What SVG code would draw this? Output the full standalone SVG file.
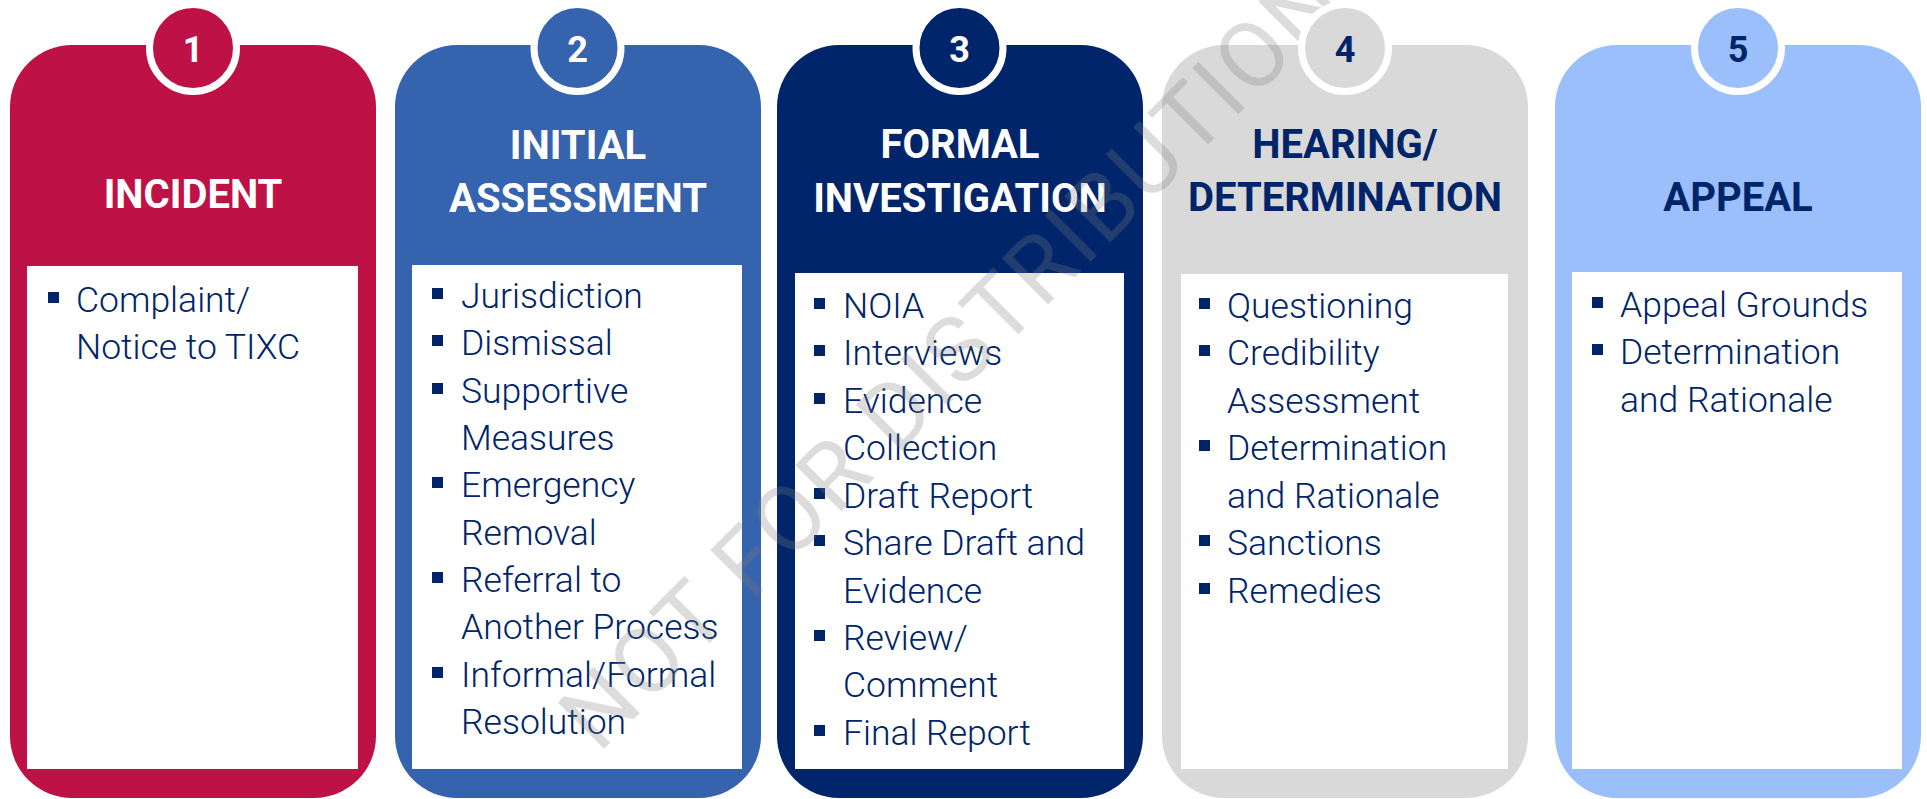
<svg xmlns="http://www.w3.org/2000/svg" width="1927" height="799" viewBox="0 0 1927 799">
  <style>
    .card { stroke: none; }
    .panel { fill: #ffffff; }
    .head { font-family: Roboto, "Liberation Sans", sans-serif; font-weight: 700; font-size: 40px; text-anchor: middle; }
    .num { font-family: Roboto, "Liberation Sans", sans-serif; font-weight: 700; font-size: 36px; text-anchor: middle; }
    .item { font-family: Roboto, "Liberation Sans", sans-serif; font-weight: 300; font-size: 35.5px; fill: #002469; }
    .dot { fill: #002469; }
    .light { fill: #ffffff; }
    .dark { fill: #002469; }
    .badge { stroke: #ffffff; stroke-width: 7; }
    .mark { font-family: Roboto, "Liberation Sans", sans-serif; font-weight: 400; font-size: 92px; letter-spacing: 3px; fill: #7f7f7f; fill-opacity: 0.27; text-anchor: middle; }
  </style>
  <defs>
    <rect id="bullet" width="11" height="11"/>
  </defs>

  <rect width="1927" height="799" fill="#ffffff"/>

  <!-- Step 1 -->
  <g id="step-incident">
    <rect class="card" x="10" y="45" width="366" height="753" rx="62" fill="#be1145"/>
    <rect class="panel" x="27" y="266" width="331" height="503"/>
    <text class="head light" x="193" y="208">INCIDENT</text>
    <use href="#bullet" class="dot" x="48" y="292"/>
    <text class="item" x="76" y="312">Complaint/</text>
    <text class="item" x="76" y="359">Notice to TIXC</text>
  </g>

  <!-- Step 2 -->
  <g id="step-initial-assessment">
    <rect class="card" x="395" y="45" width="366" height="753" rx="62" fill="#3563ae"/>
    <rect class="panel" x="412" y="265" width="330" height="504"/>
    <text class="head light" x="578" y="159">INITIAL</text>
    <text class="head light" x="578" y="212">ASSESSMENT</text>
    <g>
      <use href="#bullet" class="dot" x="432" y="288"/>
      <text class="item" x="461" y="308">Jurisdiction</text>
      <use href="#bullet" class="dot" x="432" y="335"/>
      <text class="item" x="461" y="355">Dismissal</text>
      <use href="#bullet" class="dot" x="432" y="383"/>
      <text class="item" x="461" y="403">Supportive</text>
      <text class="item" x="461" y="450">Measures</text>
      <use href="#bullet" class="dot" x="432" y="477"/>
      <text class="item" x="461" y="497">Emergency</text>
      <text class="item" x="461" y="545">Removal</text>
      <use href="#bullet" class="dot" x="432" y="572"/>
      <text class="item" x="461" y="592">Referral to</text>
      <text class="item" x="461" y="639">Another Process</text>
      <use href="#bullet" class="dot" x="432" y="667"/>
      <text class="item" x="461" y="687">Informal/Formal</text>
      <text class="item" x="461" y="734">Resolution</text>
    </g>
  </g>

  <!-- Step 3 -->
  <g id="step-formal-investigation">
    <rect class="card" x="777" y="45" width="366" height="753" rx="62" fill="#00256a"/>
    <rect class="panel" x="795" y="273" width="329" height="496"/>
    <text class="head light" x="960" y="158">FORMAL</text>
    <text class="head light" x="960" y="212">INVESTIGATION</text>
    <g>
      <use href="#bullet" class="dot" x="814" y="298"/>
      <text class="item" x="843" y="318">NOIA</text>
      <use href="#bullet" class="dot" x="814" y="345"/>
      <text class="item" x="843" y="365">Interviews</text>
      <use href="#bullet" class="dot" x="814" y="393"/>
      <text class="item" x="843" y="413">Evidence</text>
      <text class="item" x="843" y="460">Collection</text>
      <use href="#bullet" class="dot" x="814" y="488"/>
      <text class="item" x="843" y="508">Draft Report</text>
      <use href="#bullet" class="dot" x="814" y="535"/>
      <text class="item" x="843" y="555">Share Draft and</text>
      <text class="item" x="843" y="603">Evidence</text>
      <use href="#bullet" class="dot" x="814" y="630"/>
      <text class="item" x="843" y="650">Review/</text>
      <text class="item" x="843" y="697">Comment</text>
      <use href="#bullet" class="dot" x="814" y="725"/>
      <text class="item" x="843" y="745">Final Report</text>
    </g>
  </g>

  <!-- Step 4 -->
  <g id="step-hearing-determination">
    <rect class="card" x="1162" y="45" width="366" height="753" rx="62" fill="#d9d9d9"/>
    <rect class="panel" x="1181" y="274" width="327" height="495"/>
    <text class="head dark" x="1345" y="158">HEARING/</text>
    <text class="head dark" x="1345" y="211">DETERMINATION</text>
    <g>
      <use href="#bullet" class="dot" x="1199" y="298"/>
      <text class="item" x="1227" y="318">Questioning</text>
      <use href="#bullet" class="dot" x="1199" y="345"/>
      <text class="item" x="1227" y="365">Credibility</text>
      <text class="item" x="1227" y="413">Assessment</text>
      <use href="#bullet" class="dot" x="1199" y="440"/>
      <text class="item" x="1227" y="460">Determination</text>
      <text class="item" x="1227" y="508">and Rationale</text>
      <use href="#bullet" class="dot" x="1199" y="535"/>
      <text class="item" x="1227" y="555">Sanctions</text>
      <use href="#bullet" class="dot" x="1199" y="583"/>
      <text class="item" x="1227" y="603">Remedies</text>
    </g>
  </g>

  <!-- Step 5 -->
  <g id="step-appeal">
    <rect class="card" x="1555" y="45" width="366" height="753" rx="62" fill="#9bbffb"/>
    <rect class="panel" x="1572" y="272" width="330" height="497"/>
    <text class="head dark" x="1738" y="211">APPEAL</text>
    <use href="#bullet" class="dot" x="1592" y="297"/>
    <text class="item" x="1620" y="317">Appeal Grounds</text>
    <use href="#bullet" class="dot" x="1592" y="344"/>
    <text class="item" x="1620" y="364">Determination</text>
    <text class="item" x="1620" y="412">and Rationale</text>
  </g>

  <!-- diagonal watermark across the steps -->
  <g id="watermark">
    <text class="mark" transform="translate(950,356) rotate(-45)" y="33">NOT FOR DISTRIBUTION</text>
  </g>

  <!-- numbered badges sit on top of everything -->
  <g id="badges">
    <g id="badge-1">
      <circle class="badge" cx="193" cy="48" r="43.5" fill="#be1145"/>
      <text class="num light" x="193" y="62">1</text>
    </g>
    <g id="badge-2">
      <circle class="badge" cx="577.5" cy="48" r="43.5" fill="#3563ae"/>
      <text class="num light" x="577.5" y="62">2</text>
    </g>
    <g id="badge-3">
      <circle class="badge" cx="959.5" cy="48" r="43.5" fill="#00256a"/>
      <text class="num light" x="959.5" y="62">3</text>
    </g>
    <g id="badge-4">
      <circle class="badge" cx="1345" cy="48" r="43.5" fill="#d9d9d9"/>
      <text class="num dark" x="1345" y="62">4</text>
    </g>
    <g id="badge-5">
      <circle class="badge" cx="1738" cy="48" r="43.5" fill="#9bbffb"/>
      <text class="num dark" x="1738" y="62">5</text>
    </g>
  </g>
</svg>
